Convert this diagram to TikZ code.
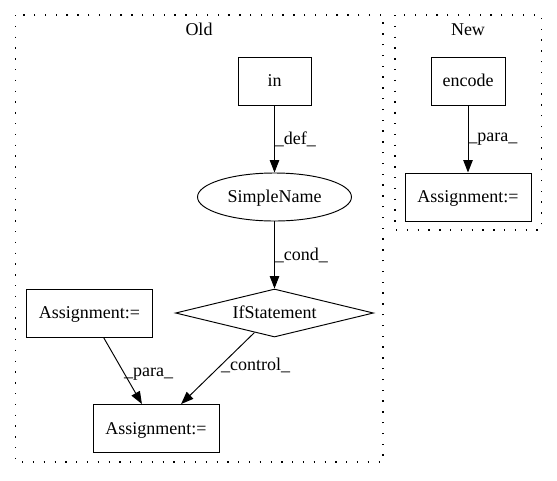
\documentclass[tikz,border=0pt]{standalone}
\usepackage{fontspec}
\setmainfont{Liberation Serif}
\usetikzlibrary{shapes.geometric,arrows.meta}
\begin{document}
\begin{tikzpicture}[x=1pt,y=-1pt,
  every node/.style={font=\fontsize{18}{22}\selectfont, text height=13.4pt, text depth=2pt, inner sep=0pt},
  box/.style={draw, line width=0.95pt, rectangle, minimum height=48pt},
  ell/.style={draw, line width=0.95pt, ellipse, minimum width=154pt, minimum height=48pt},
  dia/.style={draw, line width=0.95pt, diamond, aspect=4.125, minimum width=198pt, minimum height=48pt},
  clus/.style={line width=1.3pt, dash pattern=on 1.3pt off 9.5pt},
  edge/.style={line width=0.95pt, -{Triangle[length=12.5pt,width=9.5pt]}},
  lbl/.style={anchor=west}]
\useasboundingbox (0,0) rectangle (557,480);
% clusters
\draw[clus] (15.5,15) rectangle (383,462);
\draw[clus] (395,15) rectangle (541.5,230);
\node (oldlbl) at (199,29.5) {Old};
\node (newlbl) at (468,29.5) {New};
% Old nodes
\node[box, minimum width=73pt] (in) at (274.5,81) {in};
\node[ell] (sn) at (274.5,197) {SimpleName};
\node[dia] (if) at (274.5,313) {IfStatement};
\node[box, minimum width=125.6pt] (al) at (89.5,313) {Assignment:=};
\node[box, minimum width=126pt] (ab) at (156,428.5) {Assignment:=};
% New nodes
\node[box, minimum width=74pt] (enc) at (468,81) {encode};
\node[box, minimum width=126pt] (an) at (468,197) {Assignment:=};
% edges
\draw[edge] (in) -- node[lbl] {\_def\_} (sn);
\draw[edge] (sn) -- node[lbl] {\_cond\_} (if);
\draw[edge] (al) -- node[lbl, xshift=1pt] {\_para\_} (ab);
\draw[edge] (if) -- node[lbl, xshift=3pt, yshift=3pt] {\_control\_} (ab);
\draw[edge] (enc) -- node[lbl, yshift=3pt] {\_para\_} (an);
\end{tikzpicture}
\end{document}
